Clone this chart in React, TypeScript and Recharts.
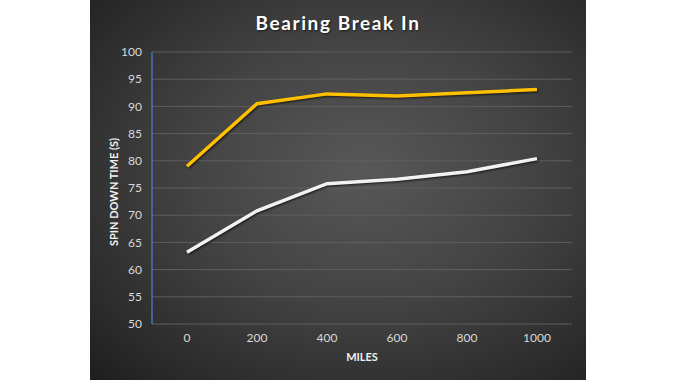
import { LineChart, Line, XAxis, YAxis, CartesianGrid, Label } from 'recharts'

const miles = ['0', '200', '400', '600', '800', '1000']
const goldSeries = [79.0, 90.5, 92.3, 91.9, 92.5, 93.1]
const whiteSeries = [63.2, 70.8, 75.8, 76.6, 78.0, 80.4]
const yTicks = [50, 55, 60, 65, 70, 75, 80, 85, 90, 95, 100]

const data = miles.map((m, i) => ({ miles: m, gold: goldSeries[i], white: whiteSeries[i] }))

const font = 'Lato, "Open Sans", sans-serif'
const lineShadow = { filter: 'drop-shadow(1px 1px 1px rgba(0,0,0,0.7))' }

export default function App() {
  return (
    <div
      style={{
        position: 'absolute',
        left: 90,
        top: 0,
        width: 496,
        height: 380,
        background: 'radial-gradient(ellipse at 55% 45%, #585858 0%, #434343 45%, #2c2c2c 80%, #1e1e1e 100%)',
        fontFamily: font,
      }}
    >
      <div
        style={{
          position: 'absolute',
          top: 11,
          left: 0,
          width: 496,
          textAlign: 'center',
          color: '#fff',
          fontSize: 19,
          fontWeight: 700,
          letterSpacing: 1.6,
          textShadow: '1px 1px 2px rgba(0,0,0,0.6)',
        }}
      >
        Bearing Break In
      </div>
      <LineChart width={496} height={380} data={data} margin={{ top: 52, right: 14, bottom: 26, left: 0 }}>
        <CartesianGrid vertical={false} stroke="#5f5f5f" strokeWidth={1} />
        <XAxis
          dataKey="miles"
          padding={{ left: 35, right: 35 }}
          axisLine={false}
          tickLine={false}
          tickSize={0}
          tickMargin={9}
          height={30}
          tick={{ fill: '#d9d9d9', fontSize: 12, fontFamily: font }}
        >
          <Label
            content={({ viewBox }: any) => (
              <text
                x={viewBox.x + viewBox.width / 2}
                y={358}
                textAnchor="middle"
                dominantBaseline="middle"
                fill="#f2f2f2"
                fontSize={11}
                fontWeight={700}
                fontFamily={font}
              >
                MILES
              </text>
            )}
          />
        </XAxis>
        <YAxis
          domain={[50, 100]}
          ticks={yTicks}
          width={62}
          axisLine={{ stroke: '#4472c4', strokeWidth: 1.5 }}
          tickLine={false}
          tickSize={0}
          tickMargin={10}
          tick={{ fill: '#d9d9d9', fontSize: 12, fontFamily: font }}
        >
          <Label
            content={({ viewBox }: any) => {
              const cy = viewBox.y + viewBox.height / 2 + 4
              return (
                <text
                  x={25}
                  y={cy}
                  transform={`rotate(-90 25 ${cy})`}
                  textAnchor="middle"
                  dominantBaseline="middle"
                  fill="#f2f2f2"
                  fontSize={11}
                  fontWeight={700}
                  fontFamily={font}
                >
                  SPIN DOWN TIME (S)
                </text>
              )
            }}
          />
        </YAxis>
        <Line
          type="linear"
          dataKey="gold"
          stroke="#ffc000"
          strokeWidth={3.5}
          dot={false}
          isAnimationActive={false}
          style={lineShadow}
        />
        <Line
          type="linear"
          dataKey="white"
          stroke="#f2f2f2"
          strokeWidth={3.5}
          dot={false}
          isAnimationActive={false}
          style={lineShadow}
        />
      </LineChart>
    </div>
  )
}
